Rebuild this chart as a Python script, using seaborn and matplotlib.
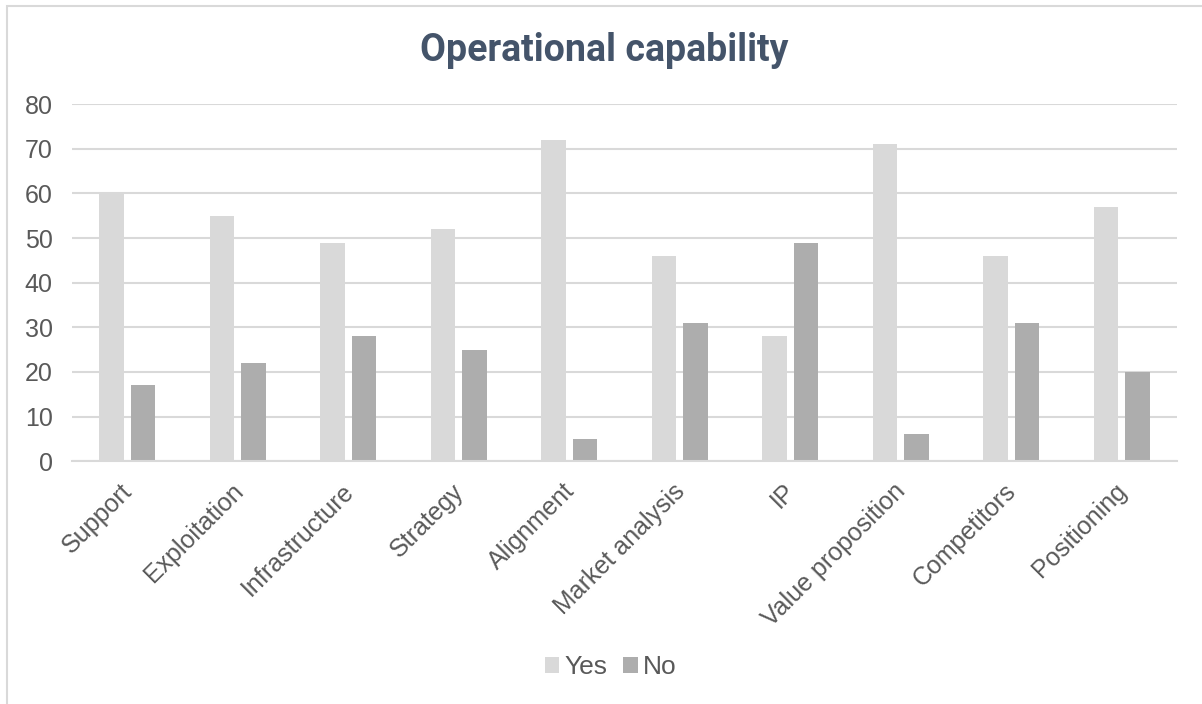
import matplotlib
matplotlib.use("Agg")
import matplotlib.pyplot as plt
import matplotlib.transforms as mtransforms
import seaborn as sns
import pandas as pd
from matplotlib.patches import Rectangle

categories = ["Support", "Exploitation", "Infrastructure", "Strategy", "Alignment",
              "Market analysis", "IP", "Value proposition", "Competitors", "Positioning"]
yes_values = [60, 55, 49, 52, 72, 46, 28, 71, 46, 57]
no_values = [17, 22, 28, 25, 5, 31, 49, 6, 31, 20]
series_names = ["Yes", "No"]
y_ticks = [0, 10, 20, 30, 40, 50, 60, 70, 80]

df = pd.DataFrame({
    "category": categories * 2,
    "answer": [series_names[0]] * len(categories) + [series_names[1]] * len(categories),
    "count": yes_values + no_values,
})

sns.set_theme(style="white")
plt.rcParams["font.family"] = ["Liberation Sans", "DejaVu Sans"]

fig = plt.figure(figsize=(12.02, 7.04), dpi=100)
ax = fig.add_axes([0.0599, 0.345, 0.9192, 0.507])

sns.barplot(data=df, x="category", y="count", hue="answer", order=categories,
            hue_order=series_names, palette=["#D9D9D9", "#ADADAD"],
            width=0.57, gap=0.22, saturation=1, linewidth=0, ax=ax, legend=True)

ax.set_ylim(0, 80)
ax.set_yticks(y_ticks)
ax.set_xlim(-0.5, len(categories) - 0.5)
ax.yaxis.grid(True, color="#D9D9D9", linewidth=1.5)
ax.set_axisbelow(True)
for side in ["top", "right", "left"]:
    ax.spines[side].set_visible(False)
ax.spines["bottom"].set_color("#D9D9D9")
ax.spines["bottom"].set_linewidth(1.5)
ax.set_xlabel("")
ax.set_ylabel("")
ax.tick_params(axis="both", length=0, labelsize=18, colors="#595959")
ax.tick_params(axis="y", pad=14)
ax.tick_params(axis="x", pad=10)

# rotated category labels, nudged so their ends sit just right of each group
label_shift = mtransforms.ScaledTranslation(-0.07, -0.04, fig.dpi_scale_trans)
for lbl in ax.get_xticklabels():
    lbl.set_rotation(45)
    lbl.set_ha("right")
    lbl.set_rotation_mode("anchor")
    lbl.set_transform(lbl.get_transform() + label_shift)

leg = ax.legend(loc="center", bbox_to_anchor=(0.508, 0.0527), bbox_transform=fig.transFigure,
                ncol=2, frameon=False, fontsize=19, handlelength=0.55, handleheight=0.55,
                handletextpad=0.2, columnspacing=0.6)
for t in leg.get_texts():
    t.set_color("#595959")

fig.text(0.503, 0.928, "Operational capability", ha="center", va="center",
         fontsize=27, fontweight="bold", color="#44546A", family=["Roboto", "DejaVu Sans"])

fig.patches.append(Rectangle((7 / 1202, -0.1), 1.2, 1 - 6 / 704 + 0.1,
                             transform=fig.transFigure, fill=False,
                             edgecolor="#D9D9D9", linewidth=1.5, clip_on=False))

fig.savefig("out.png", dpi=100)
